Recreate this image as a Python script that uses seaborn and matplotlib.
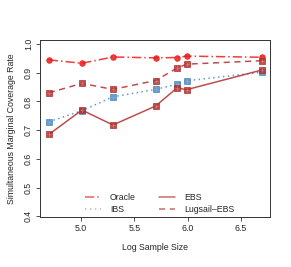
import matplotlib
matplotlib.use("Agg")
import matplotlib.pyplot as plt
from matplotlib.lines import Line2D
import pandas as pd
import seaborn as sns

# log sample sizes
log_n = [4.70, 5.01, 5.30, 5.70, 5.90, 5.99, 6.70]

oracle = [0.945, 0.933, 0.955, 0.952, 0.953, 0.958, 0.954]
ibs = [0.729, 0.768, 0.816, 0.842, 0.860, 0.872, 0.902]
ebs = [0.685, 0.770, 0.718, 0.784, 0.847, 0.841, 0.910]
lugsail = [0.830, 0.863, 0.842, 0.873, 0.916, 0.930, 0.942]

sns.set_style("white")
plt.rcParams['font.family'] = ['Liberation Sans', 'DejaVu Sans']

fig = plt.figure(figsize=(2.91, 2.67), dpi=100)
ax = fig.add_axes([0.137, 0.187, 0.791, 0.663])

red = "#f01818"
dark = "#b03030"
blue = "#4f88c0"

series = [
    ("Oracle", oracle, red, (0, (6, 2, 1, 2)), "o"),
    ("IBS", ibs, blue, (0, (1, 2.2)), "s"),
    ("EBS", ebs, dark, "-", "s"),
    ("Lugsail-EBS", lugsail, dark, (0, (4, 3)), "s"),
]

for name, vals, col, ls, mk in series:
    df = pd.DataFrame({"x": log_n, "y": vals})
    sns.lineplot(data=df, x="x", y="y", ax=ax, color=col, linestyle=ls,
                 linewidth=1.1, alpha=0.85, marker=mk, markersize=4.0,
                 markeredgewidth=0.6, markeredgecolor=col)
    if mk == "s":
        ax.plot(log_n, vals, linestyle="none", marker="+", markersize=2.8,
                markeredgewidth=0.5, alpha=0.6,
                color="#e0a8a8" if col == dark else "#a8c4e0")

ax.set_xlim(4.616, 6.772)
ax.set_ylim(0.397, 1.014)
ax.set_xticks([5.0, 5.5, 6.0, 6.5])
ax.set_yticks([0.4, 0.5, 0.6, 0.7, 0.8, 0.9, 1.0])
ax.set_xticklabels(["5.0", "5.5", "6.0", "6.5"], fontsize=6.3)
ax.set_yticklabels(["0.4", "0.5", "0.6", "0.7", "0.8", "0.9", "1.0"],
                   fontsize=6.3, rotation=90, va="center")
ax.tick_params(axis="both", direction="out", length=3, width=0.6,
               color="#333333", pad=2, left=True, bottom=True)
ax.set_xlabel("Log Sample Size", fontsize=6.3, labelpad=7)
ax.set_ylabel("Simultaneous Marginal Coverage Rate", fontsize=6.3, labelpad=6)
for s in ax.spines.values():
    s.set_color("#333333")
    s.set_linewidth(0.7)

handles = [
    Line2D([], [], color=red, linestyle=(0, (6, 2, 1, 2)), lw=1.1, alpha=0.7),
    Line2D([], [], color=blue, linestyle=(0, (1, 2.2)), lw=1.1, alpha=0.5),
    Line2D([], [], color=dark, linestyle="-", lw=1.1, alpha=0.7),
    Line2D([], [], color=dark, linestyle=(0, (4, 3)), lw=1.1, alpha=0.7),
]
ax.legend(handles, ["Oracle", "IBS", "EBS", "Lugsail\u2013EBS"], ncol=2,
          loc="lower center", bbox_to_anchor=(0.52, -0.025), frameon=False,
          fontsize=6.3, handlelength=1.9, columnspacing=2.6, labelspacing=0.3,
          handletextpad=1.0)

fig.savefig("out.png", dpi=100)
